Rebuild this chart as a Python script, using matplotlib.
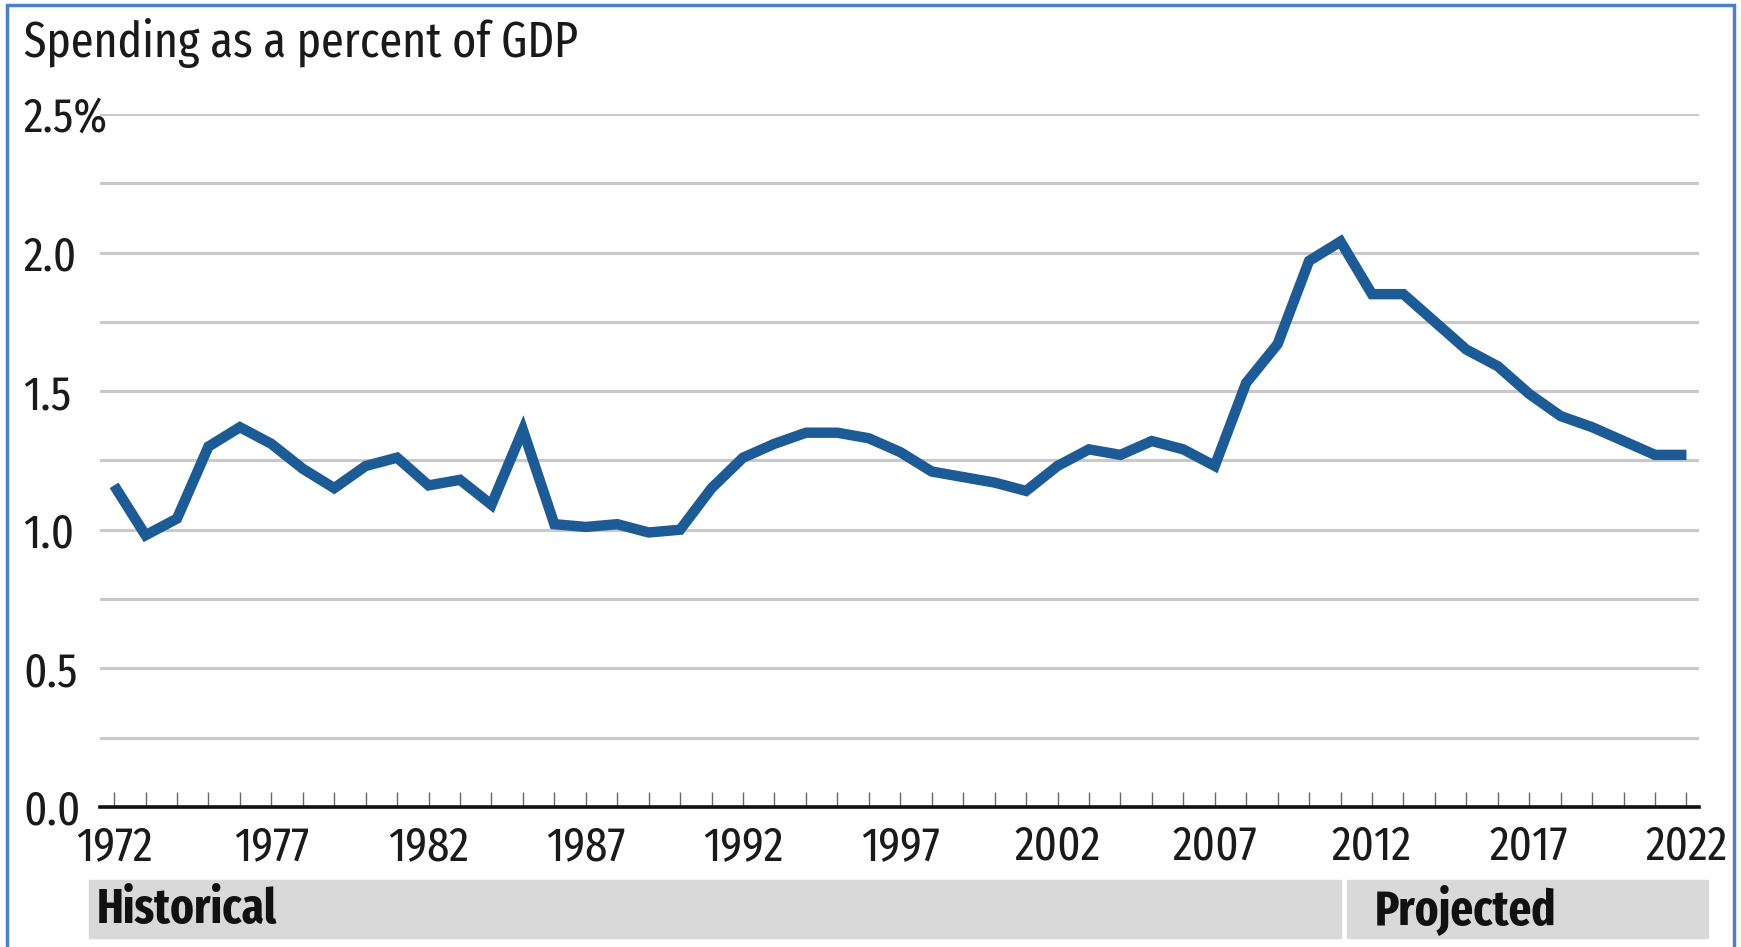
import matplotlib
matplotlib.use("Agg")
import matplotlib.pyplot as plt
import matplotlib.transforms as mtransforms
from matplotlib.patches import Rectangle
from matplotlib.ticker import MultipleLocator

# --- data -------------------------------------------------------------------
years = list(range(1972, 2023))
spending = [1.16, 0.98, 1.04, 1.30, 1.37, 1.31, 1.22, 1.15, 1.23, 1.26,
            1.16, 1.18, 1.09, 1.36, 1.02, 1.01, 1.02, 0.99, 1.00, 1.15,
            1.26, 1.31, 1.35, 1.35, 1.33, 1.28, 1.21, 1.19, 1.17, 1.14,
            1.23, 1.29, 1.27, 1.32, 1.29, 1.23, 1.53, 1.67, 1.97, 2.04,
            1.85, 1.85, 1.75, 1.65, 1.59, 1.49, 1.41, 1.37, 1.32, 1.27,
            1.27]
ytick_vals = [0.0, 0.5, 1.0, 1.5, 2.0, 2.5]
ytick_labels = ["0.0", "0.5", "1.0", "1.5", "2.0", "2.5%"]
xtick_vals = list(range(1972, 2023, 5))
periods = ["Historical", "Projected"]
period_spans = [(1971.2, 2011.0), (2011.2, 2022.7)]

FONT = ["Fira Sans Extra Condensed", "DejaVu Sans"]
LINE = "#1d5b97"
GRID = "#c9c9c9"
BAND = "#d9d9d9"

fig = plt.figure(figsize=(17.41, 9.47), dpi=100)
ax = fig.add_axes([0.0574, 0.148, 0.9185, 0.7316])

ax.plot(years, spending, color=LINE, lw=7.5, solid_joinstyle="miter",
        solid_capstyle="butt", clip_on=False, zorder=3)

ax.set_xlim(1971.55, 2022.4)
ax.set_ylim(0, 2.5)

# gridlines every 0.25, labels every 0.5
ax.set_yticks(ytick_vals)
ax.set_yticklabels(ytick_labels, family=FONT, fontsize=35, ha="left",
                   color="#1a1a1a")
ax.yaxis.set_minor_locator(MultipleLocator(0.25))
ax.grid(axis="y", which="both", color=GRID, lw=2.2)
ax.tick_params(axis="y", which="both", length=0, pad=55)

ax.set_xticks(xtick_vals)
ax.set_xticklabels([str(y) for y in xtick_vals], family=FONT, fontsize=35,
                   color="#1a1a1a")
ax.xaxis.set_minor_locator(MultipleLocator(1))
ax.tick_params(axis="x", which="both", direction="in", length=11,
               width=1.0, color="#666666", pad=12)

for s in ("top", "right", "left"):
    ax.spines[s].set_visible(False)
ax.spines["bottom"].set_linewidth(2.6)
ax.spines["bottom"].set_color("#111111")
ax.spines["bottom"].set_zorder(4)
ax.set_axisbelow(True)

# title
fig.text(0.0138, 0.955, "Spending as a percent of GDP", family=FONT,
         fontsize=36, ha="left", va="center", color="#1a1a1a")

# historical / projected bands below the axis
trans = mtransforms.blended_transform_factory(ax.transData, ax.transAxes)
for name, (x0, x1) in zip(periods, period_spans):
    ax.add_patch(Rectangle((x0, -0.189), x1 - x0, 0.084, transform=trans,
                           color=BAND, clip_on=False, zorder=1))
ax.text(1971.45, -0.149, periods[0], transform=trans, family=FONT,
        fontsize=35, fontweight="bold", ha="left", va="center", color="#111111")
ax.text(2012.1, -0.149, periods[1], transform=trans, family=FONT,
        fontsize=35, fontweight="bold", ha="left", va="center", color="#111111")

# thin blue frame around the whole graphic
fig.patches.append(Rectangle((0.004, -0.01), 0.992, 1.005,
                             transform=fig.transFigure, fill=False,
                             edgecolor="#4a80c8", lw=2.5))

fig.savefig("out.png", dpi=100)
